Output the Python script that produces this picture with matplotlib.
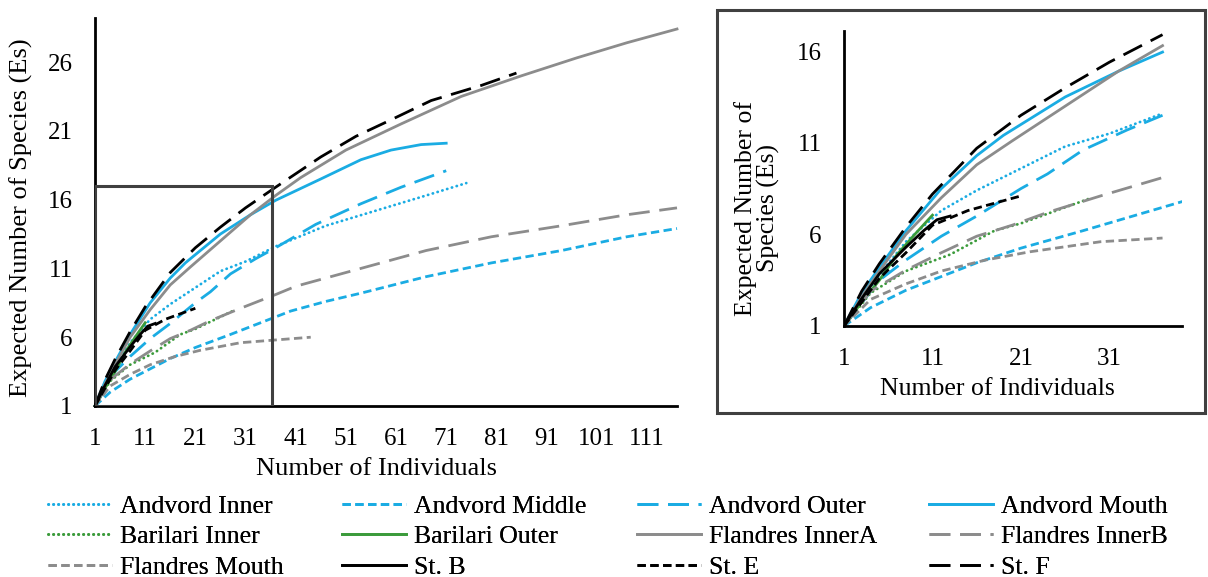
import matplotlib
matplotlib.use("Agg")
import matplotlib.pyplot as plt
from matplotlib.patches import Rectangle

plt.rcParams["font.family"] = ["Liberation Serif", "DejaVu Serif"]

# rarefaction curves: number of individuals vs expected species
andvord_inner_n = [1, 3, 5, 8, 12, 16, 21, 26, 31, 37, 47, 57, 67, 75]
andvord_inner_es = [1, 2.5, 3.8, 5.6, 7.3, 8.4, 9.6, 10.8, 11.5, 12.6, 14.1, 15.2, 16.3, 17.2]

andvord_middle_n = [1, 4, 8, 12, 16, 21, 28, 34, 40, 47, 54, 67, 80, 94, 107, 117]
andvord_middle_es = [1, 2.0, 2.95, 3.7, 4.45, 5.25, 6.2, 7.05, 7.9, 8.6, 9.2, 10.4, 11.4, 12.3, 13.3, 13.9]

andvord_outer_n = [1, 5, 8, 12, 16, 21, 24, 28, 33, 37, 45, 54, 62, 71]
andvord_outer_es = [1, 3.5, 4.6, 5.9, 7.0, 8.5, 9.3, 10.6, 11.7, 12.5, 14.2, 15.7, 16.9, 18.1]

andvord_mouth_n = [1, 3, 5, 8, 12, 16, 19, 26, 32, 37, 46, 54, 60, 66, 71]
andvord_mouth_es = [1, 2.8, 4.2, 6.2, 8.5, 10.3, 11.4, 13.5, 14.9, 15.95, 17.5, 18.9, 19.6, 20.0, 20.1]

barilari_inner_n = [1, 4, 8, 13, 18, 21, 25, 29]
barilari_inner_es = [1, 2.8, 4.0, 4.9, 6.2, 6.6, 7.3, 8.0]

barilari_outer_n = [1, 3, 5, 7, 9, 11]
barilari_outer_es = [1, 2.3, 3.5, 4.9, 6.0, 7.05]

flandres_innera_n = [1, 3, 5, 8, 12, 16, 20, 26, 32, 37, 42, 51, 62, 74, 86, 97, 107, 117]
flandres_innera_es = [1, 2.6, 4.0, 6.0, 8.0, 9.8, 11.1, 13.0, 14.9, 16.3, 17.6, 19.6, 21.5, 23.5, 25.0, 26.3, 27.4, 28.4]

flandres_innerb_n = [1, 4, 8, 12, 16, 20, 24, 30, 37, 41, 54, 67, 80, 94, 107, 117]
flandres_innerb_es = [1, 2.9, 4.05, 5.0, 5.9, 6.5, 7.2, 8.1, 9.1, 9.7, 11.0, 12.3, 13.3, 14.1, 14.9, 15.4]

flandres_mouth_n = [1, 4, 8, 12, 17, 22, 30, 37, 44]
flandres_mouth_es = [1, 2.45, 3.3, 4.0, 4.6, 5.05, 5.6, 5.8, 6.0]

st_b_n = [1, 3, 5, 8, 10, 11.5, 13]
st_b_es = [1, 2.5, 3.85, 5.3, 6.2, 6.8, 7.0]

st_e_n = [1, 3, 5, 8, 11, 13, 15, 18, 21]
st_e_es = [1, 2.3, 3.6, 5.0, 6.5, 6.9, 7.3, 7.7, 8.1]

st_f_n = [1, 3, 5, 8, 11, 16, 21, 26, 31, 37, 46, 53, 60, 68, 78, 85]
st_f_es = [1, 2.9, 4.4, 6.4, 8.2, 10.7, 12.5, 14.0, 15.4, 16.9, 19.1, 20.6, 21.8, 23.2, 24.3, 25.2]

labels = ["Andvord Inner", "Andvord Middle", "Andvord Outer", "Andvord Mouth",
          "Barilari Inner", "Barilari Outer", "Flandres InnerA", "Flandres InnerB",
          "Flandres Mouth", "St. B", "St. E", "St. F"]

main_xticks = list(range(1, 112, 10))
main_yticks = [1, 6, 11, 16, 21, 26]
inset_xticks = [1, 11, 21, 31]
inset_yticks = [1, 6, 11, 16]

# the inset only shows the first part of each curve
INSET_LAST_N = 37
INSET_LAST_N_MIDDLE = 40

BLUE = "#1AACE3"
GREEN = "#3B9B3B"
GRAY = "#8C8C8C"
BLACK = "#000000"

DOT = (0, (0.1, 1.7))
SHORT = (0, (3, 1.6))
LONG = (0, (7.5, 3.5))

series = [
    (andvord_inner_n, andvord_inner_es, BLUE, DOT),
    (andvord_middle_n, andvord_middle_es, BLUE, SHORT),
    (andvord_outer_n, andvord_outer_es, BLUE, LONG),
    (andvord_mouth_n, andvord_mouth_es, BLUE, "-"),
    (barilari_inner_n, barilari_inner_es, GREEN, DOT),
    (barilari_outer_n, barilari_outer_es, GREEN, "-"),
    (flandres_innera_n, flandres_innera_es, GRAY, "-"),
    (flandres_innerb_n, flandres_innerb_es, GRAY, LONG),
    (flandres_mouth_n, flandres_mouth_es, GRAY, SHORT),
    (st_b_n, st_b_es, BLACK, "-"),
    (st_e_n, st_e_es, BLACK, SHORT),
    (st_f_n, st_f_es, BLACK, LONG),
]

W, H = 1208, 577
fig = plt.figure(figsize=(W / 100, H / 100), dpi=100)

ax = fig.add_axes([95 / W, 1 - 406 / H, 582 / W, 388 / H])
ins = fig.add_axes([844 / W, 1 - 326 / H, 338 / W, 295 / H])


def style_axes(a, xticks, yticks, xlim, ylim):
    a.set_xlim(*xlim)
    a.set_ylim(*ylim)
    a.set_xticks(xticks)
    a.set_yticks(yticks)
    for side in ["top", "right"]:
        a.spines[side].set_visible(False)
    for side in ["left", "bottom"]:
        a.spines[side].set_linewidth(2)
        a.spines[side].set_color("black")
    a.tick_params(length=0, labelsize=18, pad=16)
    a.patch.set_alpha(0)


handles = []
for i, (n, es, color, ls) in enumerate(series):
    cap = "round" if ls == DOT else "butt"
    line, = ax.plot(n, es, color=color, linestyle=ls, lw=2, dash_capstyle=cap,
                    label=labels[i], clip_on=False)
    handles.append(line)

    cut = INSET_LAST_N_MIDDLE if labels[i] == "Andvord Middle" else INSET_LAST_N
    n_in = [x for x in n if x <= cut]
    es_in = es[:len(n_in)]
    ins.plot(n_in, es_in, color=color, linestyle=ls, lw=2, dash_capstyle=cap)

style_axes(ax, main_xticks, main_yticks, (1, 117), (1, 29.2))
style_axes(ins, inset_xticks, inset_yticks, (1, 39.2), (1, 17.1))

# zoom box on the main chart
ax.add_patch(Rectangle((1, 1), 35.2, 16, fill=False, edgecolor="#404040", lw=2.2, zorder=5))

# frame around the inset
fig.add_artist(Rectangle((717 / W, 1 - 413 / H), 488 / W, 403 / H, fill=False,
                         edgecolor="#404040", lw=2.2, transform=fig.transFigure))

fig.text(21 / W, 1 - 218 / H, "Expected Number of Species (Es)", rotation=90,
         ha="center", va="center", fontsize=19)
fig.text(376 / W, 1 - 469 / H, "Number of Individuals", ha="center", va="center", fontsize=19)
fig.text(757 / W, 1 - 208 / H, "Expected Number of\nSpecies (Es)", rotation=90,
         ha="center", va="center", fontsize=18.5, linespacing=1.0)
fig.text(997 / W, 1 - 389 / H, "Number of Individuals", ha="center", va="center", fontsize=18.5)

# legend: four columns filled row by row, each placed like the original
col_left = [48, 342, 637, 929]
for c, x0 in enumerate(col_left):
    idx = [c, c + 4, c + 8]
    leg = fig.legend([handles[k] for k in idx], [labels[k] for k in idx],
                     loc="upper left", bbox_to_anchor=(x0 / W, 1 - 495 / H),
                     frameon=False, fontsize=18.5, handlelength=2.5, handletextpad=0.3,
                     labelspacing=0.29, borderpad=0, borderaxespad=0)
    fig.add_artist(leg)

fig.savefig("out.png", dpi=100)
